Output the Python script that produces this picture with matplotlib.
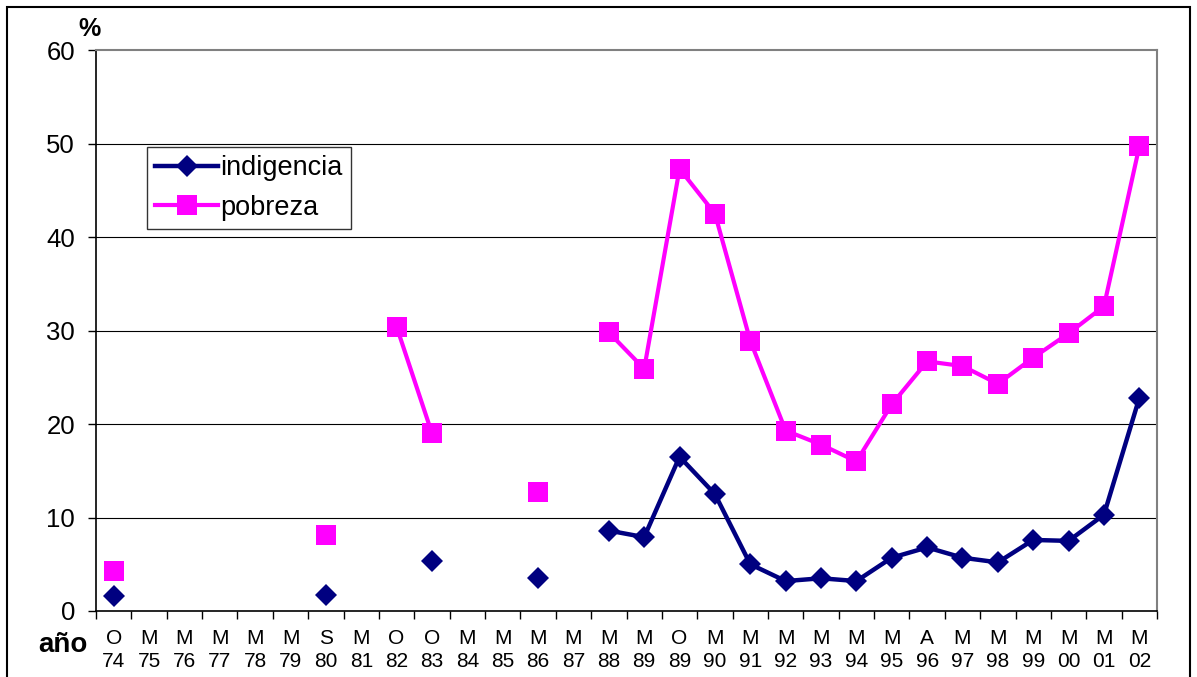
import matplotlib
matplotlib.use("Agg")
import matplotlib.pyplot as plt
from matplotlib.lines import Line2D
import numpy as np

plt.rcParams["font.family"] = ["Liberation Sans", "DejaVu Sans"]

# survey waves: month letter + year
months = ["O", "M", "M", "M", "M", "M", "S", "M", "O", "O",
          "M", "M", "M", "M", "M", "M", "O", "M", "M", "M",
          "M", "M", "M", "A", "M", "M", "M", "M", "M", "M"]
years = ["74", "75", "76", "77", "78", "79", "80", "81", "82", "83",
         "84", "85", "86", "87", "88", "89", "89", "90", "91", "92",
         "93", "94", "95", "96", "97", "98", "99", "00", "01", "02"]
nan = np.nan
indigencia = [1.6, nan, nan, nan, nan, nan, 1.7, nan, nan, 5.3,
              nan, nan, 3.5, nan, 8.6, 7.9, 16.5, 12.5, 5.0, 3.2,
              3.5, 3.2, 5.7, 6.8, 5.7, 5.2, 7.6, 7.5, 10.3, 22.8]
pobreza = [4.3, nan, nan, nan, nan, nan, 8.1, nan, 30.4, 19.0,
           nan, nan, 12.7, nan, 29.8, 25.9, 47.3, 42.5, 28.9, 19.3,
           17.8, 16.0, 22.1, 26.7, 26.2, 24.3, 27.1, 29.7, 32.6, 49.7]

NAVY = "#000080"
PINK = "#ff00ff"

n = len(years)
x = np.arange(n)
fig = plt.figure(figsize=(11.97, 6.77), dpi=100)
ax = fig.add_axes([0.0802, 0.0975, 0.8864, 0.8285])

ax.plot(x, indigencia, color=NAVY, lw=3.2, marker="D", ms=11, mew=0, zorder=4)
ax.plot(x, pobreza, color=PINK, lw=3.0, marker="s", ms=14, mew=0, zorder=3)

ax.set_xlim(-0.5, n - 0.5)
ax.set_ylim(0, 60)
ax.set_yticks(range(0, 61, 10))
ax.tick_params(axis="y", labelsize=18.5, length=6, width=1, direction="out", pad=9)
for y in range(10, 60, 10):
    ax.axhline(y, color="black", lw=0.8, zorder=1)

# ticks sit on category boundaries, labels centered under each category
ax.set_xticks(np.arange(n + 1) - 0.5)
ax.set_xticklabels([])
ax.tick_params(axis="x", length=6, width=1, direction="out")
for i in range(n):
    ax.text(i, -1.9, f"{months[i]}\n{years[i]}", ha="center", va="top",
            fontsize=15, linespacing=1.3)

for side in ("top", "right"):
    ax.spines[side].set_color("#808080")
    ax.spines[side].set_linewidth(1.5)
for side in ("left", "bottom"):
    ax.spines[side].set_color("black")
    ax.spines[side].set_linewidth(1.2)

fig.text(0.0745, 0.957, "%", fontsize=18, fontweight="bold", ha="center", va="center")
fig.text(0.0525, 0.047, "año", fontsize=20, fontweight="bold", ha="center", va="center")

handles = [Line2D([], [], color=NAVY, lw=3.2, marker="D", ms=11, mew=0),
           Line2D([], [], color=PINK, lw=3.0, marker="s", ms=14, mew=0)]
leg = ax.legend(handles, ["indigencia", "pobreza"], loc="upper left",
                bbox_to_anchor=(0.123, 0.783), bbox_transform=fig.transFigure,
                fontsize=19.5, frameon=True, fancybox=False, handlelength=2.3,
                handletextpad=0.1, borderpad=0.3, labelspacing=0.5, borderaxespad=0)
leg.get_frame().set_edgecolor("black")
leg.get_frame().set_linewidth(1.0)

# outer frame around the chart area
fig.add_artist(plt.Rectangle((0.006, -0.01), 0.988, 1.0, transform=fig.transFigure,
                             fill=False, edgecolor="black", lw=1.5))

fig.savefig("out.png", dpi=100)
